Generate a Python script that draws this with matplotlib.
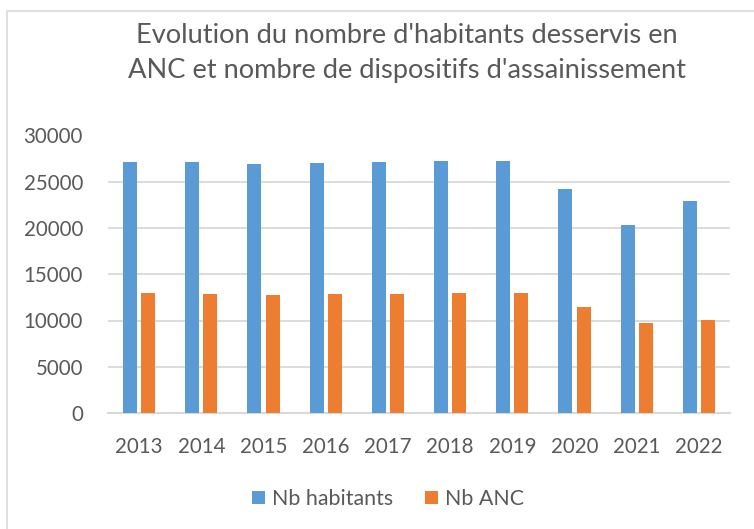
import matplotlib
matplotlib.use('Agg')
import matplotlib.pyplot as plt
from matplotlib.patches import Rectangle
import numpy as np

# values
annees = ['2013', '2014', '2015', '2016', '2017', '2018', '2019', '2020', '2021', '2022']
nb_habitants = [27150, 27120, 26940, 27050, 27120, 27220, 27190, 24230, 20350, 22900]
nb_anc = [12930, 12890, 12780, 12860, 12890, 12930, 12930, 11490, 9690, 10080]

titre = ["Evolution du nombre d'habitants desservis en",
         "ANC et nombre de dispositifs d'assainissement"]

bleu = '#5B9BD5'
orange = '#ED7D31'
gris = '#595959'

plt.rcParams['font.family'] = ['Lato', 'DejaVu Sans']

W, H = 754, 529
fig = plt.figure(figsize=(W / 100, H / 100), dpi=100)
fig.patch.set_facecolor('white')

# chart frame (cut at right and bottom in the original)
fig.patches.append(Rectangle((7 / W, -0.1), 1.2, 1 - 11 / H + 0.1, transform=fig.transFigure,
                             fill=False, edgecolor='#D9D9D9', linewidth=1.2))

ax = fig.add_axes([108 / W, (H - 413) / H, 622 / W, 277.5 / H])
x = np.arange(len(annees))
w = 0.225
ax.bar(x - 0.145, nb_habitants, w, color=bleu, label='Nb habitants', zorder=3)
ax.bar(x + 0.145, nb_anc, w, color=orange, label='Nb ANC', zorder=3)

ax.set_xlim(-0.5, len(annees) - 0.5)
ax.set_ylim(0, 30000)
ax.set_yticks(range(0, 30001, 5000))
ax.set_xticks(x)
ax.set_xticklabels(annees)
ax.yaxis.grid(True, color='#D9D9D9', linewidth=1.3, zorder=0)
for s in ['top', 'right', 'left']:
    ax.spines[s].set_visible(False)
ax.spines['bottom'].set_color('#D9D9D9')
ax.spines['bottom'].set_linewidth(1.5)
ax.tick_params(axis='both', length=0, labelsize=14.8, labelcolor=gris)
ax.tick_params(axis='y', pad=18)
ax.tick_params(axis='x', pad=17)

# title, one line at a time
fig.text(407 / W, 1 - 43 / H, titre[0], ha='center', va='baseline', fontsize=19.6, color=gris)
fig.text(407 / W, 1 - 78 / H, titre[1], ha='center', va='baseline', fontsize=19.6, color=gris)

leg = fig.legend(loc='center', bbox_to_anchor=(388 / W, 1 - 499 / H), ncol=2, frameon=False,
                 fontsize=15.4, labelcolor=gris, handlelength=0.62, handleheight=0.62,
                 handletextpad=0.35, columnspacing=1.45)

fig.savefig('out.png', dpi=100)
